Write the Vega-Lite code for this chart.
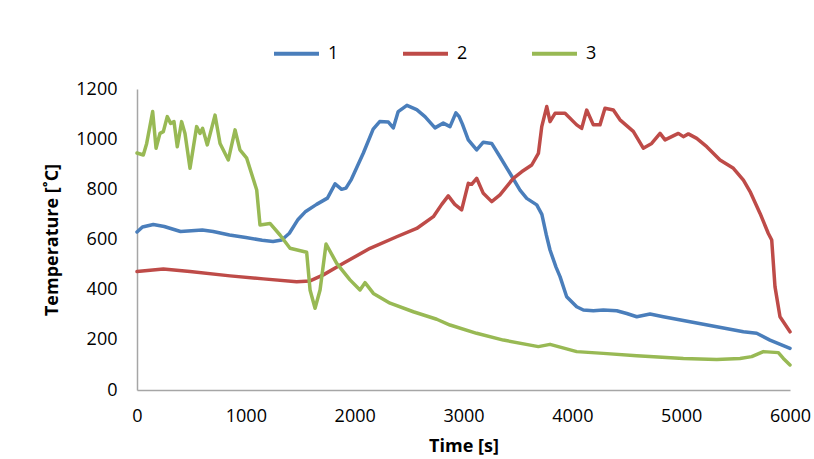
{
  "$schema": "https://vega.github.io/schema/vega-lite/v6.json",
  "autosize": "none",
  "padding": {"left": 137, "top": 89, "right": 24, "bottom": 69},
  "width": 653,
  "height": 301,
  "background": "white",
  "config": {
    "view": {"stroke": null},
    "font": "Open Sans",
    "axis": {"labelFont": "Open Sans", "titleFont": "Open Sans", "labelColor": "#000", "titleColor": "#000", "labelFontSize": 18, "titleFontSize": 18, "titleFontWeight": "bold", "grid": false, "ticks": false, "domainColor": "#a6a6a6", "domainWidth": 1.5, "format": "d"}
  },
  "data": {
    "values": [
      {"series": "1", "t": 0, "T": 630}, {"series": "1", "t": 50, "T": 650}, {"series": "1", "t": 150, "T": 660}, {"series": "1", "t": 250, "T": 652},
      {"series": "1", "t": 400, "T": 632}, {"series": "1", "t": 500, "T": 635}, {"series": "1", "t": 600, "T": 638}, {"series": "1", "t": 700, "T": 632},
      {"series": "1", "t": 850, "T": 618}, {"series": "1", "t": 1000, "T": 608}, {"series": "1", "t": 1150, "T": 597}, {"series": "1", "t": 1250, "T": 592},
      {"series": "1", "t": 1330, "T": 598}, {"series": "1", "t": 1400, "T": 625}, {"series": "1", "t": 1480, "T": 680}, {"series": "1", "t": 1550, "T": 712},
      {"series": "1", "t": 1650, "T": 740}, {"series": "1", "t": 1750, "T": 765}, {"series": "1", "t": 1820, "T": 822}, {"series": "1", "t": 1880, "T": 800},
      {"series": "1", "t": 1920, "T": 805}, {"series": "1", "t": 1970, "T": 840}, {"series": "1", "t": 2080, "T": 945}, {"series": "1", "t": 2170, "T": 1040},
      {"series": "1", "t": 2230, "T": 1070}, {"series": "1", "t": 2310, "T": 1068}, {"series": "1", "t": 2355, "T": 1045}, {"series": "1", "t": 2400, "T": 1110},
      {"series": "1", "t": 2480, "T": 1135}, {"series": "1", "t": 2570, "T": 1118}, {"series": "1", "t": 2646, "T": 1090}, {"series": "1", "t": 2738, "T": 1045},
      {"series": "1", "t": 2814, "T": 1064}, {"series": "1", "t": 2876, "T": 1050}, {"series": "1", "t": 2930, "T": 1105}, {"series": "1", "t": 2960, "T": 1090},
      {"series": "1", "t": 2990, "T": 1060}, {"series": "1", "t": 3044, "T": 997}, {"series": "1", "t": 3121, "T": 957}, {"series": "1", "t": 3182, "T": 988},
      {"series": "1", "t": 3259, "T": 983}, {"series": "1", "t": 3335, "T": 930}, {"series": "1", "t": 3427, "T": 864}, {"series": "1", "t": 3519, "T": 797},
      {"series": "1", "t": 3581, "T": 764}, {"series": "1", "t": 3673, "T": 738}, {"series": "1", "t": 3720, "T": 700}, {"series": "1", "t": 3760, "T": 620},
      {"series": "1", "t": 3795, "T": 558}, {"series": "1", "t": 3850, "T": 490}, {"series": "1", "t": 3887, "T": 452}, {"series": "1", "t": 3948, "T": 372},
      {"series": "1", "t": 4040, "T": 332}, {"series": "1", "t": 4101, "T": 319}, {"series": "1", "t": 4193, "T": 316}, {"series": "1", "t": 4285, "T": 319},
      {"series": "1", "t": 4408, "T": 316}, {"series": "1", "t": 4500, "T": 305}, {"series": "1", "t": 4592, "T": 292}, {"series": "1", "t": 4714, "T": 303},
      {"series": "1", "t": 4836, "T": 292}, {"series": "1", "t": 5081, "T": 272}, {"series": "1", "t": 5327, "T": 252}, {"series": "1", "t": 5572, "T": 232},
      {"series": "1", "t": 5694, "T": 226}, {"series": "1", "t": 5816, "T": 199}, {"series": "1", "t": 6000, "T": 166},

      {"series": "2", "t": 0, "T": 472}, {"series": "2", "t": 242, "T": 482}, {"series": "2", "t": 487, "T": 472}, {"series": "2", "t": 855, "T": 455},
      {"series": "2", "t": 1161, "T": 443}, {"series": "2", "t": 1467, "T": 432}, {"series": "2", "t": 1590, "T": 435}, {"series": "2", "t": 1712, "T": 459},
      {"series": "2", "t": 1896, "T": 505}, {"series": "2", "t": 2141, "T": 565}, {"series": "2", "t": 2386, "T": 611}, {"series": "2", "t": 2570, "T": 644},
      {"series": "2", "t": 2723, "T": 691}, {"series": "2", "t": 2800, "T": 740}, {"series": "2", "t": 2860, "T": 774}, {"series": "2", "t": 2920, "T": 740},
      {"series": "2", "t": 2983, "T": 718}, {"series": "2", "t": 3044, "T": 824}, {"series": "2", "t": 3075, "T": 820}, {"series": "2", "t": 3121, "T": 844},
      {"series": "2", "t": 3182, "T": 784}, {"series": "2", "t": 3259, "T": 751}, {"series": "2", "t": 3335, "T": 778}, {"series": "2", "t": 3458, "T": 844},
      {"series": "2", "t": 3534, "T": 870}, {"series": "2", "t": 3627, "T": 897}, {"series": "2", "t": 3688, "T": 943}, {"series": "2", "t": 3719, "T": 1050},
      {"series": "2", "t": 3765, "T": 1130}, {"series": "2", "t": 3795, "T": 1070}, {"series": "2", "t": 3841, "T": 1103}, {"series": "2", "t": 3933, "T": 1103},
      {"series": "2", "t": 4040, "T": 1057}, {"series": "2", "t": 4086, "T": 1043}, {"series": "2", "t": 4132, "T": 1116}, {"series": "2", "t": 4193, "T": 1057},
      {"series": "2", "t": 4254, "T": 1057}, {"series": "2", "t": 4300, "T": 1123}, {"series": "2", "t": 4377, "T": 1116}, {"series": "2", "t": 4438, "T": 1077},
      {"series": "2", "t": 4560, "T": 1031}, {"series": "2", "t": 4652, "T": 964}, {"series": "2", "t": 4729, "T": 983}, {"series": "2", "t": 4806, "T": 1023},
      {"series": "2", "t": 4852, "T": 997}, {"series": "2", "t": 4974, "T": 1023}, {"series": "2", "t": 5020, "T": 1010}, {"series": "2", "t": 5066, "T": 1021},
      {"series": "2", "t": 5143, "T": 1003}, {"series": "2", "t": 5235, "T": 970}, {"series": "2", "t": 5357, "T": 917}, {"series": "2", "t": 5480, "T": 884},
      {"series": "2", "t": 5572, "T": 837}, {"series": "2", "t": 5633, "T": 791}, {"series": "2", "t": 5725, "T": 704}, {"series": "2", "t": 5801, "T": 624},
      {"series": "2", "t": 5832, "T": 598}, {"series": "2", "t": 5862, "T": 412}, {"series": "2", "t": 5908, "T": 292}, {"series": "2", "t": 6000, "T": 232},

      {"series": "3", "t": 0, "T": 945}, {"series": "3", "t": 58, "T": 937}, {"series": "3", "t": 89, "T": 983}, {"series": "3", "t": 144, "T": 1110},
      {"series": "3", "t": 175, "T": 964}, {"series": "3", "t": 211, "T": 1023}, {"series": "3", "t": 242, "T": 1030}, {"series": "3", "t": 278, "T": 1090},
      {"series": "3", "t": 309, "T": 1063}, {"series": "3", "t": 340, "T": 1070}, {"series": "3", "t": 370, "T": 970}, {"series": "3", "t": 410, "T": 1070},
      {"series": "3", "t": 441, "T": 1023}, {"series": "3", "t": 487, "T": 884}, {"series": "3", "t": 548, "T": 1050}, {"series": "3", "t": 579, "T": 1023},
      {"series": "3", "t": 603, "T": 1043}, {"series": "3", "t": 646, "T": 977}, {"series": "3", "t": 717, "T": 1096}, {"series": "3", "t": 763, "T": 983},
      {"series": "3", "t": 839, "T": 917}, {"series": "3", "t": 901, "T": 1037}, {"series": "3", "t": 946, "T": 957}, {"series": "3", "t": 1008, "T": 924},
      {"series": "3", "t": 1100, "T": 797}, {"series": "3", "t": 1130, "T": 658}, {"series": "3", "t": 1222, "T": 664}, {"series": "3", "t": 1314, "T": 618},
      {"series": "3", "t": 1406, "T": 565}, {"series": "3", "t": 1559, "T": 549}, {"series": "3", "t": 1590, "T": 399}, {"series": "3", "t": 1636, "T": 326},
      {"series": "3", "t": 1682, "T": 399}, {"series": "3", "t": 1737, "T": 582}, {"series": "3", "t": 1835, "T": 505}, {"series": "3", "t": 1957, "T": 439},
      {"series": "3", "t": 2049, "T": 399}, {"series": "3", "t": 2095, "T": 428}, {"series": "3", "t": 2172, "T": 385}, {"series": "3", "t": 2325, "T": 346},
      {"series": "3", "t": 2539, "T": 312}, {"series": "3", "t": 2754, "T": 282}, {"series": "3", "t": 2876, "T": 259}, {"series": "3", "t": 3121, "T": 226},
      {"series": "3", "t": 3366, "T": 199}, {"series": "3", "t": 3688, "T": 173}, {"series": "3", "t": 3795, "T": 182}, {"series": "3", "t": 4040, "T": 153},
      {"series": "3", "t": 4285, "T": 146}, {"series": "3", "t": 4592, "T": 137}, {"series": "3", "t": 5020, "T": 126}, {"series": "3", "t": 5327, "T": 122},
      {"series": "3", "t": 5541, "T": 126}, {"series": "3", "t": 5648, "T": 133}, {"series": "3", "t": 5755, "T": 153}, {"series": "3", "t": 5893, "T": 149},
      {"series": "3", "t": 5939, "T": 126}, {"series": "3", "t": 6000, "T": 100}
    ]
  },
  "mark": {"type": "line", "strokeWidth": 3.5, "strokeJoin": "round", "strokeCap": "round"},
  "encoding": {
    "x": {
      "field": "t", "type": "quantitative",
      "scale": {"domain": [0, 6000], "nice": false, "zero": false},
      "axis": {"title": "Time [s]", "values": [0, 1000, 2000, 3000, 4000, 5000, 6000], "labelPadding": 17, "titleY": 47, "labelFlush": false}
    },
    "y": {
      "field": "T", "type": "quantitative",
      "scale": {"domain": [0, 1200], "nice": false},
      "axis": {"title": "Temperature [˚C]", "values": [0, 200, 400, 600, 800, 1000, 1200], "labelPadding": 20, "titleX": -76, "labelFlush": false}
    },
    "color": {
      "field": "series", "type": "nominal",
      "scale": {"domain": ["1", "2", "3"], "range": ["#4a7ebb", "#be4b48", "#98b954"]},
      "legend": {
        "title": null, "orient": "none", "direction": "horizontal",
        "legendX": 135, "legendY": -60,
        "symbolType": "stroke", "symbolSize": 2025, "symbolStrokeWidth": 4,
        "labelFontSize": 18, "labelFont": "Open Sans", "labelColor": "#000", "labelOffset": 7,
        "columnPadding": 56
      }
    }
  }
}
